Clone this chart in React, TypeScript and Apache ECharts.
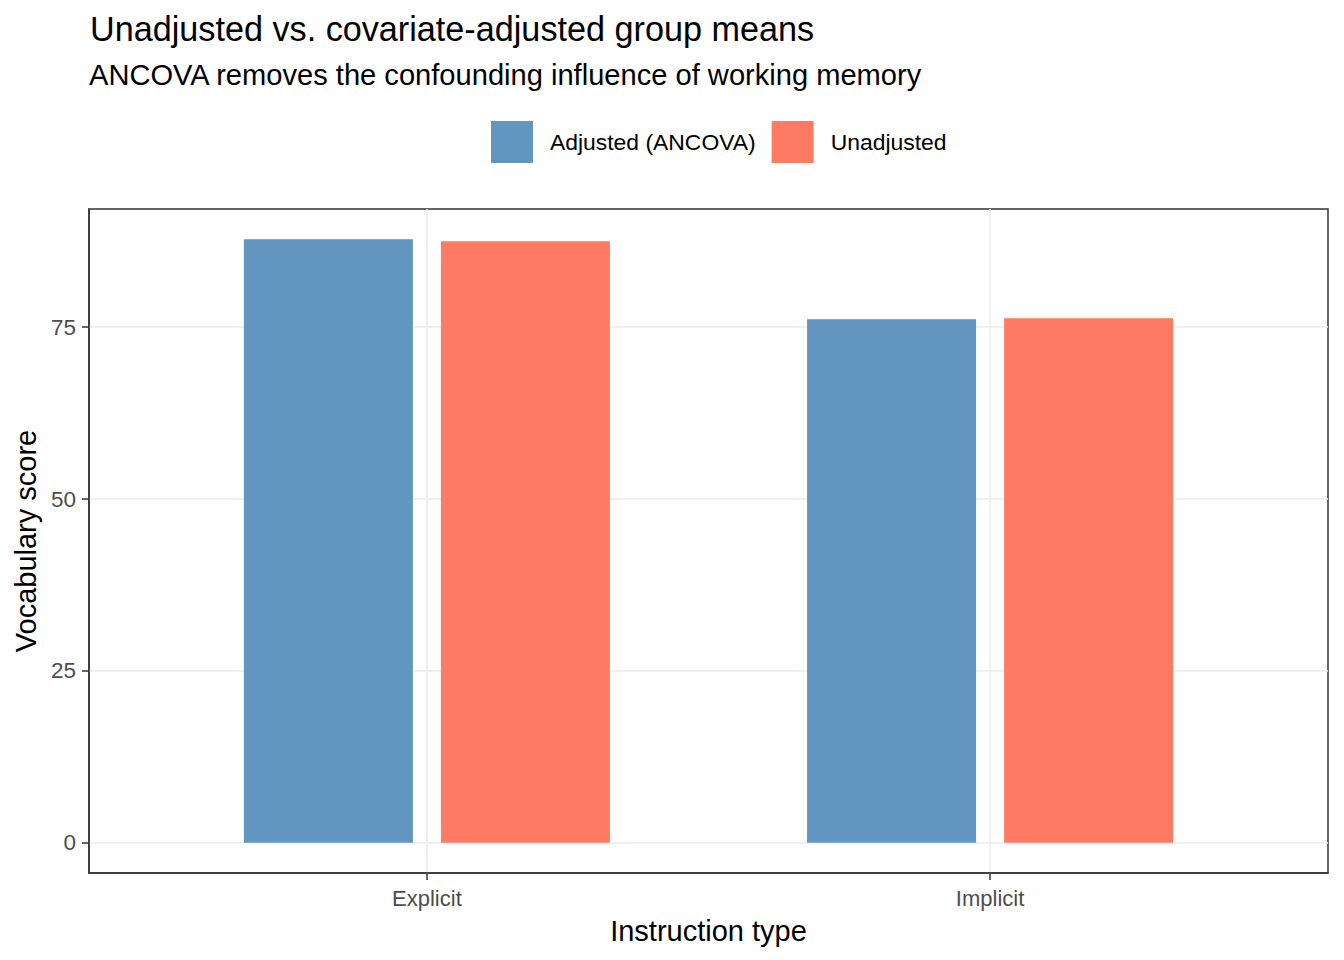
import React, { useEffect, useRef } from "react";
import * as echarts from "echarts";

const categories = ["Explicit", "Implicit"];
const categoryPositions = [1, 2];
const seriesNames = ["Adjusted (ANCOVA)", "Unadjusted"];
const adjustedValues = [87.8, 76.16];
const unadjustedValues = [87.51, 76.31];
const yTicks = [0, 25, 50, 75];
const colors = ["#6295BF", "#FF7A63"];

const FONT = "'Liberation Sans', Arial, sans-serif";

export default function App() {
  const ref = useRef<HTMLDivElement>(null);
  useEffect(() => {
    document.body.style.margin = "0";
    if (!ref.current) return;
    const chart = echarts.init(ref.current, undefined, { renderer: "svg" });
    const dataMax = Math.max(...adjustedValues, ...unadjustedValues);
    const expand = dataMax * 0.05;
    const mk = (vals: number[]) => vals.map((v, i) => [categoryPositions[i], v]);
    chart.setOption({
      animation: false,
      backgroundColor: "#ffffff",
      textStyle: { fontFamily: FONT },
      title: [
        {
          text: "Unadjusted vs. covariate-adjusted group means",
          left: 90,
          top: 11.5,
          padding: 0,
          textStyle: { fontSize: 34.2, fontWeight: "normal", color: "#000000", fontFamily: FONT },
        },
        {
          text: "ANCOVA removes the confounding influence of working memory",
          left: 89,
          top: 60.5,
          padding: 0,
          textStyle: { fontSize: 29.1, fontWeight: "normal", color: "#000000", fontFamily: FONT },
        },
      ],
      legend: {
        data: seriesNames,
        left: 491,
        top: 121,
        padding: 0,
        itemWidth: 42,
        itemHeight: 42,
        itemGap: 16,
        icon: "rect",
        textStyle: { fontSize: 22.9, color: "#000000", fontFamily: FONT, padding: [0, 0, 0, 12] },
      },
      grid: {
        left: 89,
        right: 16,
        top: 209,
        bottom: 87,
        show: true,
        borderColor: "#333333",
        borderWidth: 1.5,
        backgroundColor: "transparent",
      },
      xAxis: {
        type: "value",
        min: 0.4,
        max: 2.6,
        name: "Instruction type",
        nameLocation: "middle",
        nameGap: 43,
        nameTextStyle: { fontSize: 29, color: "#000000", fontFamily: FONT },
        axisLine: { show: true, onZero: false, lineStyle: { color: "#333333", width: 1.5 } },
        axisTick: {
          show: true,
          length: 7,
          inside: false,
          customValues: categoryPositions,
          lineStyle: { color: "#333333", width: 1.5 },
        },
        axisLabel: {
          customValues: categoryPositions,
          margin: 14,
          fontSize: 22,
          color: "#4D4D4D",
          fontFamily: FONT,
          formatter: (v: number) => categories[categoryPositions.indexOf(Math.round(v))] ?? "",
        },
        splitLine: { show: true, lineStyle: { color: "#EBEBEB", width: 1.5 } },
      },
      yAxis: {
        type: "value",
        min: -expand,
        max: dataMax + expand,
        name: "Vocabulary score",
        nameLocation: "middle",
        nameGap: 47.5,
        nameRotate: 90,
        nameTextStyle: { fontSize: 29, color: "#000000", fontFamily: FONT },
        axisLine: { show: true, onZero: false, lineStyle: { color: "#333333", width: 1.5 } },
        axisTick: {
          show: true,
          length: 7,
          inside: false,
          customValues: yTicks,
          lineStyle: { color: "#333333", width: 1.5 },
        },
        axisLabel: {
          customValues: yTicks,
          margin: 13,
          fontSize: 22.5,
          color: "#4D4D4D",
          fontFamily: FONT,
        },
        splitLine: { show: true, lineStyle: { color: "#EBEBEB", width: 1.5 } },
      },
      series: [
        {
          name: seriesNames[0],
          type: "bar",
          data: mk(adjustedValues),
          barWidth: 169,
          barGap: "16.6%",
          itemStyle: { color: colors[0] },
        },
        {
          name: seriesNames[1],
          type: "bar",
          data: mk(unadjustedValues),
          barWidth: 169,
          barGap: "16.6%",
          itemStyle: { color: colors[1] },
        },
      ],
    });
    return () => chart.dispose();
  }, []);
  return <div ref={ref} style={{ width: 1344, height: 960 }} />;
}
